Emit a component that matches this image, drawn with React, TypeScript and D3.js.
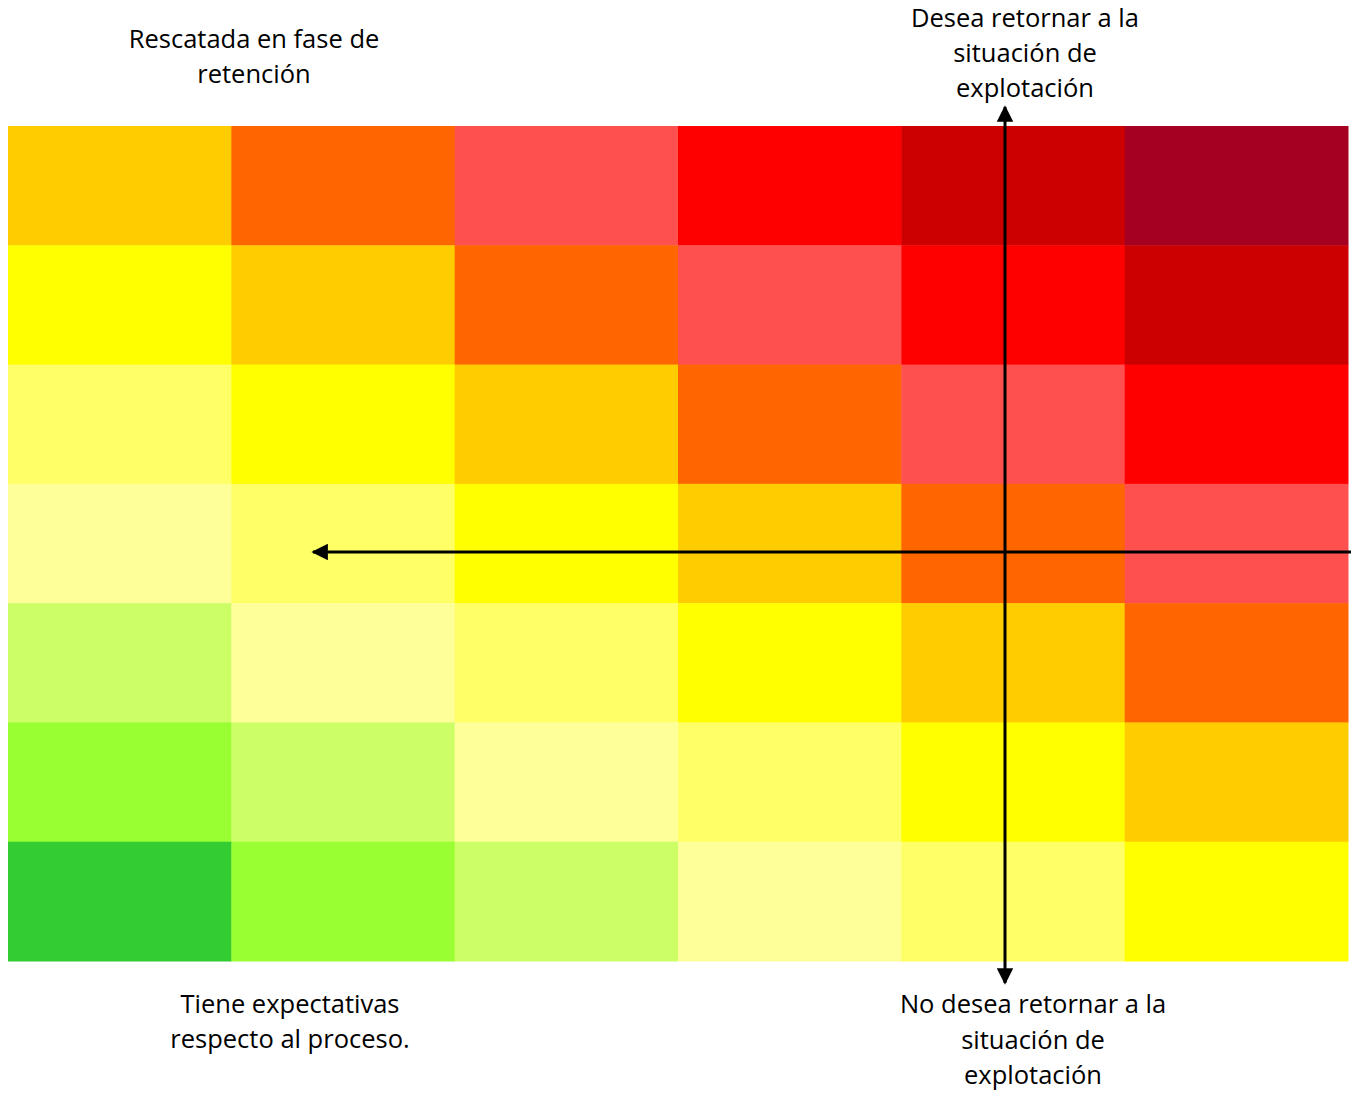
import React from "react";
import * as d3 from "d3";

// Risk level per cell, rows from top to bottom, columns left to right
const rowLabels = ["r1", "r2", "r3", "r4", "r5", "r6", "r7"];
const colLabels = ["c1", "c2", "c3", "c4", "c5", "c6"];
const row1 = [6, 7, 8, 9, 10, 11];
const row2 = [5, 6, 7, 8, 9, 10];
const row3 = [4, 5, 6, 7, 8, 9];
const row4 = [3, 4, 5, 6, 7, 8];
const row5 = [2, 3, 4, 5, 6, 7];
const row6 = [1, 2, 3, 4, 5, 6];
const row7 = [0, 1, 2, 3, 4, 5];
const levels = [row1, row2, row3, row4, row5, row6, row7];

const levelColors = [
  "#33cc33", "#99ff33", "#ccff66", "#ffff99", "#ffff66", "#ffff00",
  "#ffcc00", "#ff6600", "#ff5050", "#ff0000", "#cc0000", "#a50021",
];

const topLeftLabel = ["Rescatada en fase de", "retención"];
const topRightLabel = ["Desea retornar a la", "situación de", "explotación"];
const bottomLeftLabel = ["Tiene expectativas", "respecto al proceso."];
const bottomRightLabel = ["No desea retornar a la", "situación de", "explotación"];

const W = 1351;
const H = 1093;
const FONT = "'Open Sans', Lato, sans-serif";

export default function App() {
  const x = d3.scaleBand<string>().domain(colLabels).range([8, 1348]).padding(0);
  const y = d3.scaleBand<string>().domain(rowLabels).range([126, 961]).padding(0);
  const color = d3.scaleOrdinal<number, string>().domain(d3.range(levelColors.length)).range(levelColors);

  const vx = 1005;
  const hy = 552;

  const textBlock = (lines: string[], cx: number, y0: number, lh: number) => (
    <text x={cx} y={y0} textAnchor="middle" fontFamily={FONT} fontSize={25.5} fill="#000">
      {lines.map((l, i) => (
        <tspan key={i} x={cx} y={y0 + i * lh}>{l}</tspan>
      ))}
    </text>
  );

  return (
    <svg width={W} height={H} style={{ position: "absolute", left: 0, top: 0 }}>
      <defs>
        <marker id="ah" viewBox="0 0 10 10" refX="9" refY="5" markerWidth="5.5" markerHeight="5.5" orient="auto-start-reverse" markerUnits="strokeWidth">
          <path d="M0,0 L10,5 L0,10 z" fill="#000" />
        </marker>
      </defs>
      <rect x={0} y={0} width={W} height={H} fill="#fff" />
      {levels.map((row, ri) =>
        row.map((lv, ci) => (
          <rect
            key={`${ri}-${ci}`}
            x={x(colLabels[ci])!}
            y={y(rowLabels[ri])!}
            width={x.bandwidth() + 0.5}
            height={y.bandwidth() + 0.5}
            fill={color(lv)}
          />
        ))
      )}
      <line x1={vx} y1={983} x2={vx} y2={107} stroke="#000" strokeWidth={3} markerEnd="url(#ah)" markerStart="url(#ah)" />
      <line x1={1351} y1={hy} x2={313} y2={hy} stroke="#000" strokeWidth={3} markerEnd="url(#ah)" />
      {textBlock(topLeftLabel, 254, 48, 35)}
      {textBlock(topRightLabel, 1025, 27, 35)}
      {textBlock(bottomLeftLabel, 290, 1013, 35)}
      {textBlock(bottomRightLabel, 1033, 1013, 35.5)}
    </svg>
  );
}
